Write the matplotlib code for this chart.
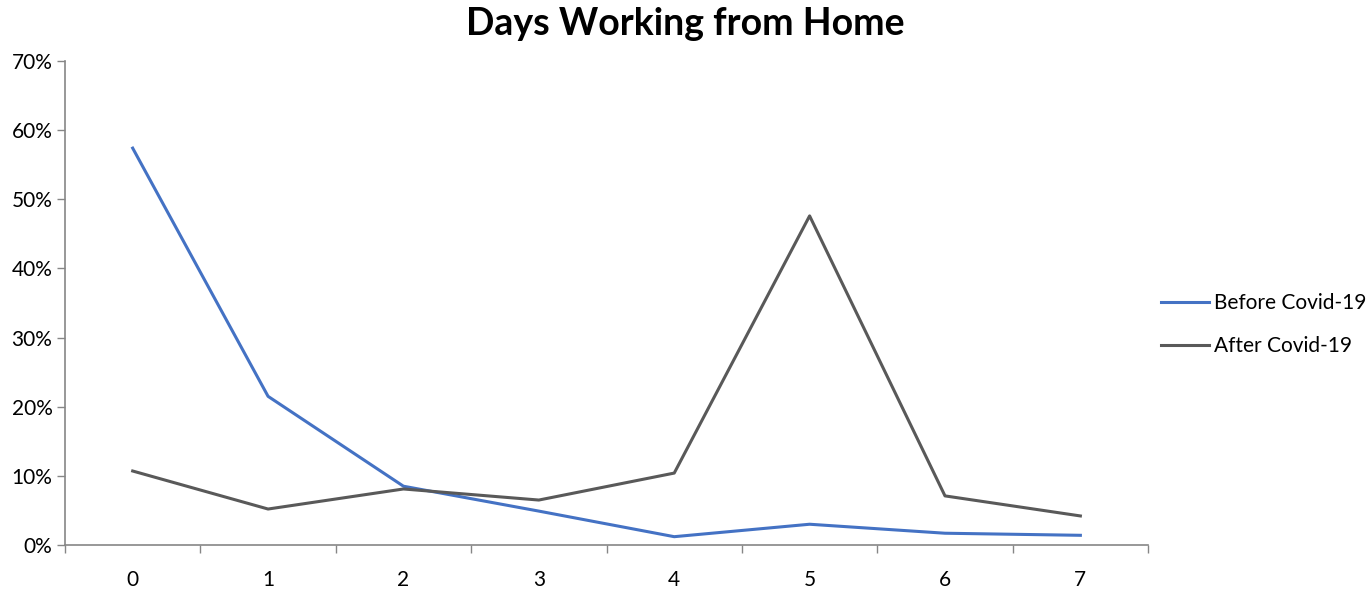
import matplotlib.pyplot as plt
from matplotlib.ticker import FixedLocator, PercentFormatter

days = [0, 1, 2, 3, 4, 5, 6, 7]
before_covid = [57.4, 21.5, 8.5, 4.9, 1.2, 3.0, 1.7, 1.4]
after_covid = [10.7, 5.2, 8.1, 6.5, 10.4, 47.6, 7.1, 4.2]

plt.rcParams['font.family'] = ['Lato', 'DejaVu Sans']
axis_grey = '#868686'

fig = plt.figure(figsize=(13.71, 5.90), dpi=100)
ax = fig.add_axes([0.0474, 0.0763, 0.79, 0.8203])

ax.plot(days, before_covid, color='#4472C4', lw=2.2, label='Before Covid-19')
ax.plot(days, after_covid, color='#595959', lw=2.2, label='After Covid-19')

ax.set_xlim(-0.5, 7.5)
ax.set_ylim(0, 70)
ax.set_yticks(range(0, 71, 10))
ax.yaxis.set_major_formatter(PercentFormatter(decimals=0))
ax.set_xticks(days)
ax.set_xticklabels([str(d) for d in days])
ax.xaxis.set_minor_locator(FixedLocator([d - 0.5 for d in days] + [7.5]))

ax.tick_params(axis='x', which='major', length=0, pad=18, labelsize=15)
ax.tick_params(axis='x', which='minor', length=6, color=axis_grey, width=1)
ax.tick_params(axis='y', length=6, color=axis_grey, width=1, labelsize=15, pad=3)

for side in ['top', 'right']:
    ax.spines[side].set_visible(False)
for side in ['left', 'bottom']:
    ax.spines[side].set_color(axis_grey)
    ax.spines[side].set_linewidth(1.2)

fig.suptitle('Days Working from Home', fontsize=27, fontweight='bold', y=0.988)

fig.legend(loc='center left', bbox_to_anchor=(0.833, 0.45), frameon=False,
           fontsize=15, handlelength=2.3, handletextpad=0.25, labelspacing=1.1)

fig.savefig('out.png', dpi=100)
